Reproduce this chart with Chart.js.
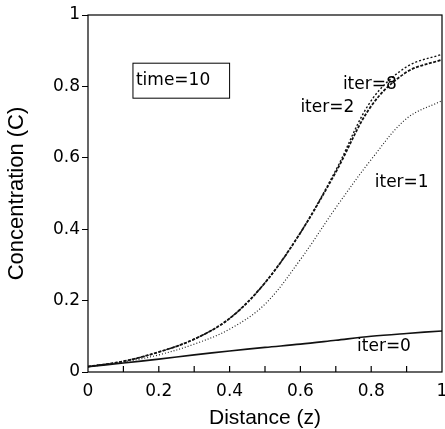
<!DOCTYPE html>
<html>
<head>
<meta charset="utf-8">
<script src="https://cdn.jsdelivr.net/npm/chart.js@4.4.1/dist/chart.umd.min.js"></script>
<style>
  html, body { margin: 0; padding: 0; background: #fff; }
  #box { width: 445px; height: 429px; }
</style>
</head>
<body>
<div id="box"><canvas id="conc"></canvas></div>
<script>
// distance z and the concentration for each iteration
const zVals = [0, 0.1, 0.2, 0.3, 0.4, 0.5, 0.6, 0.7, 0.8, 0.9, 1];
const iter0 = [0.015, 0.025, 0.036, 0.048, 0.059, 0.069, 0.078, 0.089, 0.100, 0.108, 0.115];
const iter1 = [0.015, 0.028, 0.048, 0.078, 0.12, 0.19, 0.315, 0.46, 0.595, 0.71, 0.76];
const iter2 = [0.015, 0.03, 0.056, 0.092, 0.15, 0.25, 0.39, 0.56, 0.745, 0.84, 0.875];
const iter8 = [0.015, 0.03, 0.056, 0.092, 0.15, 0.25, 0.39, 0.565, 0.76, 0.855, 0.89];
const yTicks = [0, 0.2, 0.4, 0.6, 0.8, 1];

// curve labels, placed in data units (z, C)
const curveLabels = [
  { text: 'iter=8', z: 0.72, c: 0.805 },
  { text: 'iter=2', z: 0.60, c: 0.74 },
  { text: 'iter=1', z: 0.81, c: 0.53 },
  { text: 'iter=0', z: 0.76, c: 0.07 }
];

const pts = arr => zVals.map((z, i) => ({ x: z, y: arr[i] }));
const sans = 'Liberation Sans, Arial, sans-serif';
const wide = 'DejaVu Sans, sans-serif';

// inward ticks on x, frame, labels and the time box
const extras = {
  id: 'extras',
  afterDraw(chart) {
    const { ctx, chartArea: a, scales: { x, y } } = chart;
    ctx.save();
    ctx.strokeStyle = '#000';
    ctx.lineWidth = 1.2;
    ctx.strokeRect(a.left, a.top, a.right - a.left, a.bottom - a.top);
    for (let k = 1; k < 10; k++) {
      const px = x.getPixelForValue(k / 10);
      ctx.beginPath();
      ctx.moveTo(px, a.bottom);
      ctx.lineTo(px, a.bottom - 6);
      ctx.stroke();
    }
    ctx.fillStyle = '#000';
    ctx.font = '17px ' + wide;
    ctx.textBaseline = 'middle';
    curveLabels.forEach(l => {
      ctx.fillText(l.text, x.getPixelForValue(l.z), y.getPixelForValue(l.c));
    });
    // time box
    const bx = x.getPixelForValue(0.127), by = y.getPixelForValue(0.865);
    const bw = x.getPixelForValue(0.40) - bx, bh = y.getPixelForValue(0.767) - by;
    ctx.lineWidth = 1;
    ctx.strokeRect(bx, by, bw, bh);
    ctx.font = '17px ' + wide;
    ctx.fillText('time=10', bx + 3, by + bh / 2);
    ctx.restore();
  }
};

new Chart(document.getElementById('conc'), {
  type: 'line',
  data: {
    datasets: [
      { label: 'iter=0', data: pts(iter0), borderColor: '#111', borderWidth: 1.6 },
      { label: 'iter=1', data: pts(iter1), borderColor: '#222', borderWidth: 1.2, borderDash: [1, 2] },
      { label: 'iter=2', data: pts(iter2), borderColor: '#111', borderWidth: 1.8, borderDash: [3, 1.5] },
      { label: 'iter=8', data: pts(iter8), borderColor: '#111', borderWidth: 1.4, borderDash: [2, 2] }
    ]
  },
  options: {
    responsive: true,
    maintainAspectRatio: false,
    animation: false,
    events: [],
    layout: { autoPadding: false, padding: { top: 15, right: 3, left: 0, bottom: 0 } },
    elements: {
      point: { radius: 0 },
      line: { tension: 0.35, fill: false }
    },
    plugins: { legend: { display: false }, tooltip: { enabled: false } },
    scales: {
      x: {
        type: 'linear', min: 0, max: 1,
        afterFit: s => { s.height = 57; s.paddingLeft = 0; s.paddingRight = 0; },
        ticks: {
          stepSize: 0.2, color: '#000', padding: 9,
          font: { family: wide, size: 17 },
          callback: v => String(Math.round(v * 10) / 10)
        },
        grid: { display: false, drawTicks: false },
        border: { display: false },
        title: { display: true, text: 'Distance (z)', color: '#000', font: { family: sans, size: 21 }, padding: { top: 0, bottom: -2 } }
      },
      y: {
        type: 'linear', min: 0, max: 1,
        afterFit: s => { s.width = 88; s.paddingTop = 0; s.paddingBottom = 0; },
        afterBuildTicks: s => { s.ticks = yTicks.map(v => ({ value: v })); },
        ticks: {
          color: '#000', padding: 2,
          font: { family: wide, size: 17 },
          callback: v => String(v)
        },
        grid: { drawOnChartArea: false, drawTicks: true, tickLength: 6, color: '#000' },
        border: { display: false },
        title: { display: true, text: 'Concentration (C)', color: '#000', font: { family: sans, size: 22 }, padding: { bottom: 4 } }
      }
    }
  },
  plugins: [extras]
});
</script>
</body>
</html>
